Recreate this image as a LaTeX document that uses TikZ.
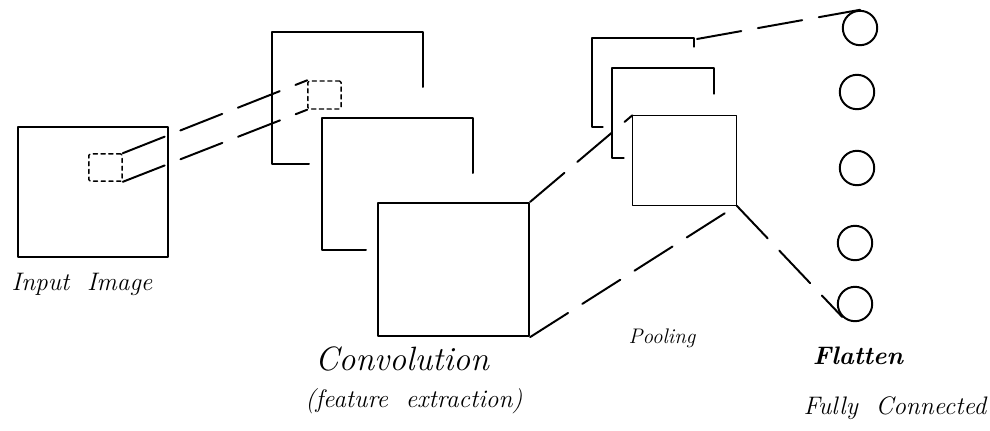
\documentclass[tikz,border=0pt]{standalone}
\begin{document}
\begin{tikzpicture}[x=0.025cm, y=-0.025cm, line width=1.4pt, line cap=round, line join=round,
  salto/.style={dash pattern=on 32pt off 12pt},
  ventana/.style={draw, line width=1pt, dash pattern=on 3pt off 2.5pt, rounded corners=1pt, inner sep=0pt},
  capa/.style={draw, inner sep=0pt},
  neurona/.style={circle, draw, minimum size=0.86cm, inner sep=0pt},
  rotulo/.style={font=\itshape\fontsize{#1}{#1}\selectfont}]
  \useasboundingbox (0,0) rectangle (990,430);
  % la imagen de entrada, con su ventana
  \node[capa, minimum width=3.75cm, minimum height=3.25cm] (entrada) at (93,192) {};
  \node[ventana, minimum width=0.83cm, minimum height=0.68cm] (ventIn) at (105.5,167.5) {};
  \node[rotulo=18] (tEntrada) at (82,284) {Input\ \ Image};
  % las capas de convolucion, una detras de otra
  \draw (309,164) -- (272,164) -- (272,32) -- (423,32) -- (423,87);
  \draw (366,250) -- (322,250) -- (322,118) -- (473,118) -- (473,173);
  \node[capa, minimum width=3.78cm, minimum height=3.33cm] (conv) at (453.5,269.5) {};
  \node[ventana, minimum width=0.83cm, minimum height=0.7cm] (ventConv) at (324.5,95) {};
  \draw[salto] (ventIn.north east) -- (ventConv.north west);
  \draw[salto] (ventIn.south east) -- (ventConv.south west);
  \node[rotulo=24] (tConv) at (402,359) {Convolution};
  \node[rotulo=18] (tRasgos) at (414,401) {(feature\ \ extraction)};
  % el pooling, mas fino
  \begin{scope}[line width=0.8pt]
    \draw (603,127) -- (592,127) -- (592,38) -- (694,38) -- (694,47);
    \draw (624,158) -- (612,158) -- (612,68) -- (714,68) -- (714,94);
    \node[capa, minimum width=2.58cm, minimum height=2.23cm] (pool) at (684.5,160.5) {};
  \end{scope}
  \coordinate (poolAtras) at (697,39);
  \draw[salto] (conv.north east) -- (pool.north west);
  \draw[salto] (conv.south east) -- (pool.south east);
  \node[rotulo=15] (tPool) at (662,338) {Pooling};
  % las neuronas del flatten
  \foreach \i/\x/\y in {1/860/28,2/857/92,3/857/168,4/855/243,5/855/304} {
    \node[neurona] (n\i) at (\x,\y) {};
  }
  \draw[salto] (poolAtras) -- (n1.north);
  \draw[salto] (pool.south east) -- (n5.south west);
  \node[rotulo=18, font=\bfseries\itshape\fontsize{18}{18}\selectfont] (tFlat) at (858,356) {Flatten};
  \node[rotulo=18] (tFull) at (895,408) {Fully\ \ Connected};
\end{tikzpicture}
\end{document}
